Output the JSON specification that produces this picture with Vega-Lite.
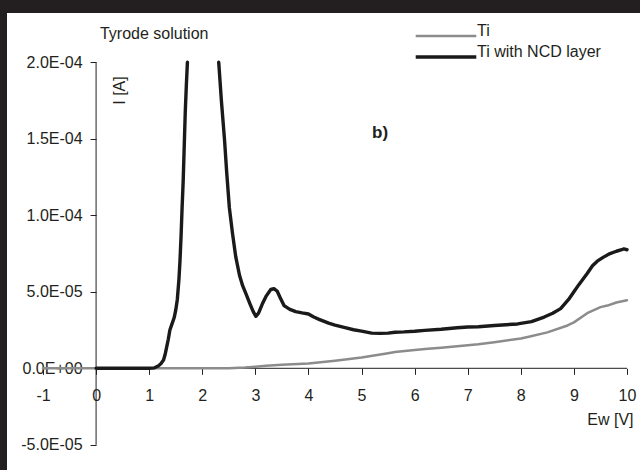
{
  "$schema": "https://vega.github.io/schema/vega-lite/v6.json",
  "width": 633,
  "height": 457,
  "autosize": {"type": "none"},
  "padding": {"left": 7, "top": 13, "right": 0, "bottom": 0},
  "background": "#231f20",
  "config": {"view": {"fill": "white", "stroke": null}, "font": "Liberation Sans"},
  "datasets": {
    "curves": [
      {"series": "Ti", "seg": "t", "V": -1, "I": 0},
      {"series": "Ti", "seg": "t", "V": 0, "I": 0},
      {"series": "Ti", "seg": "t", "V": 1, "I": 0},
      {"series": "Ti", "seg": "t", "V": 2, "I": 0},
      {"series": "Ti", "seg": "t", "V": 2.5, "I": 0},
      {"series": "Ti", "seg": "t", "V": 2.8, "I": 0.0000005},
      {"series": "Ti", "seg": "t", "V": 3.0, "I": 0.0000010},
      {"series": "Ti", "seg": "t", "V": 3.2, "I": 0.0000016},
      {"series": "Ti", "seg": "t", "V": 3.5, "I": 0.0000023},
      {"series": "Ti", "seg": "t", "V": 4.0, "I": 0.0000032},
      {"series": "Ti", "seg": "t", "V": 4.5, "I": 0.0000050},
      {"series": "Ti", "seg": "t", "V": 5.0, "I": 0.0000070},
      {"series": "Ti", "seg": "t", "V": 5.5, "I": 0.0000098},
      {"series": "Ti", "seg": "t", "V": 5.63, "I": 0.0000106},
      {"series": "Ti", "seg": "t", "V": 6.0, "I": 0.0000120},
      {"series": "Ti", "seg": "t", "V": 6.25, "I": 0.0000128},
      {"series": "Ti", "seg": "t", "V": 6.5, "I": 0.0000135},
      {"series": "Ti", "seg": "t", "V": 7.0, "I": 0.0000150},
      {"series": "Ti", "seg": "t", "V": 7.2, "I": 0.0000157},
      {"series": "Ti", "seg": "t", "V": 7.5, "I": 0.0000170},
      {"series": "Ti", "seg": "t", "V": 8.0, "I": 0.0000195},
      {"series": "Ti", "seg": "t", "V": 8.13, "I": 0.0000205},
      {"series": "Ti", "seg": "t", "V": 8.5, "I": 0.0000235},
      {"series": "Ti", "seg": "t", "V": 8.88, "I": 0.0000280},
      {"series": "Ti", "seg": "t", "V": 9.0, "I": 0.0000300},
      {"series": "Ti", "seg": "t", "V": 9.25, "I": 0.0000360},
      {"series": "Ti", "seg": "t", "V": 9.5, "I": 0.0000400},
      {"series": "Ti", "seg": "t", "V": 9.63, "I": 0.0000410},
      {"series": "Ti", "seg": "t", "V": 9.8, "I": 0.0000430},
      {"series": "Ti", "seg": "t", "V": 10.0, "I": 0.0000445},
      {"series": "Ti with NCD layer", "seg": "a", "V": 0, "I": 0},
      {"series": "Ti with NCD layer", "seg": "a", "V": 0.5, "I": 0},
      {"series": "Ti with NCD layer", "seg": "a", "V": 1.0, "I": 0},
      {"series": "Ti with NCD layer", "seg": "a", "V": 1.1, "I": 0.0000003},
      {"series": "Ti with NCD layer", "seg": "a", "V": 1.17, "I": 0.0000015},
      {"series": "Ti with NCD layer", "seg": "a", "V": 1.22, "I": 0.0000030},
      {"series": "Ti with NCD layer", "seg": "a", "V": 1.27, "I": 0.0000054},
      {"series": "Ti with NCD layer", "seg": "a", "V": 1.30, "I": 0.0000090},
      {"series": "Ti with NCD layer", "seg": "a", "V": 1.33, "I": 0.0000140},
      {"series": "Ti with NCD layer", "seg": "a", "V": 1.36, "I": 0.0000190},
      {"series": "Ti with NCD layer", "seg": "a", "V": 1.39, "I": 0.0000250},
      {"series": "Ti with NCD layer", "seg": "a", "V": 1.43, "I": 0.0000290},
      {"series": "Ti with NCD layer", "seg": "a", "V": 1.47, "I": 0.0000330},
      {"series": "Ti with NCD layer", "seg": "a", "V": 1.50, "I": 0.0000380},
      {"series": "Ti with NCD layer", "seg": "a", "V": 1.53, "I": 0.0000450},
      {"series": "Ti with NCD layer", "seg": "a", "V": 1.56, "I": 0.0000580},
      {"series": "Ti with NCD layer", "seg": "a", "V": 1.58, "I": 0.0000700},
      {"series": "Ti with NCD layer", "seg": "a", "V": 1.60, "I": 0.0000860},
      {"series": "Ti with NCD layer", "seg": "a", "V": 1.62, "I": 0.0001050},
      {"series": "Ti with NCD layer", "seg": "a", "V": 1.64, "I": 0.0001220},
      {"series": "Ti with NCD layer", "seg": "a", "V": 1.66, "I": 0.0001450},
      {"series": "Ti with NCD layer", "seg": "a", "V": 1.68, "I": 0.0001680},
      {"series": "Ti with NCD layer", "seg": "a", "V": 1.70, "I": 0.0001850},
      {"series": "Ti with NCD layer", "seg": "a", "V": 1.72, "I": 0.0002000},
      {"series": "Ti with NCD layer", "seg": "b", "V": 2.31, "I": 0.0002000},
      {"series": "Ti with NCD layer", "seg": "b", "V": 2.36, "I": 0.0001750},
      {"series": "Ti with NCD layer", "seg": "b", "V": 2.42, "I": 0.0001490},
      {"series": "Ti with NCD layer", "seg": "b", "V": 2.46, "I": 0.0001280},
      {"series": "Ti with NCD layer", "seg": "b", "V": 2.51, "I": 0.0001050},
      {"series": "Ti with NCD layer", "seg": "b", "V": 2.57, "I": 0.0000880},
      {"series": "Ti with NCD layer", "seg": "b", "V": 2.63, "I": 0.0000730},
      {"series": "Ti with NCD layer", "seg": "b", "V": 2.70, "I": 0.0000610},
      {"series": "Ti with NCD layer", "seg": "b", "V": 2.76, "I": 0.0000540},
      {"series": "Ti with NCD layer", "seg": "b", "V": 2.82, "I": 0.0000490},
      {"series": "Ti with NCD layer", "seg": "b", "V": 2.90, "I": 0.0000420},
      {"series": "Ti with NCD layer", "seg": "b", "V": 2.96, "I": 0.0000370},
      {"series": "Ti with NCD layer", "seg": "b", "V": 3.01, "I": 0.0000340},
      {"series": "Ti with NCD layer", "seg": "b", "V": 3.06, "I": 0.0000360},
      {"series": "Ti with NCD layer", "seg": "b", "V": 3.13, "I": 0.0000420},
      {"series": "Ti with NCD layer", "seg": "b", "V": 3.20, "I": 0.0000470},
      {"series": "Ti with NCD layer", "seg": "b", "V": 3.29, "I": 0.0000515},
      {"series": "Ti with NCD layer", "seg": "b", "V": 3.35, "I": 0.0000520},
      {"series": "Ti with NCD layer", "seg": "b", "V": 3.41, "I": 0.0000505},
      {"series": "Ti with NCD layer", "seg": "b", "V": 3.47, "I": 0.0000460},
      {"series": "Ti with NCD layer", "seg": "b", "V": 3.54, "I": 0.0000410},
      {"series": "Ti with NCD layer", "seg": "b", "V": 3.65, "I": 0.0000385},
      {"series": "Ti with NCD layer", "seg": "b", "V": 3.76, "I": 0.0000370},
      {"series": "Ti with NCD layer", "seg": "b", "V": 3.88, "I": 0.0000362},
      {"series": "Ti with NCD layer", "seg": "b", "V": 4.0, "I": 0.0000355},
      {"series": "Ti with NCD layer", "seg": "b", "V": 4.1, "I": 0.0000335},
      {"series": "Ti with NCD layer", "seg": "b", "V": 4.2, "I": 0.0000320},
      {"series": "Ti with NCD layer", "seg": "b", "V": 4.38, "I": 0.0000295},
      {"series": "Ti with NCD layer", "seg": "b", "V": 4.5, "I": 0.0000282},
      {"series": "Ti with NCD layer", "seg": "b", "V": 4.69, "I": 0.0000266},
      {"series": "Ti with NCD layer", "seg": "b", "V": 4.85, "I": 0.0000252},
      {"series": "Ti with NCD layer", "seg": "b", "V": 5.0, "I": 0.0000243},
      {"series": "Ti with NCD layer", "seg": "b", "V": 5.19, "I": 0.0000230},
      {"series": "Ti with NCD layer", "seg": "b", "V": 5.35, "I": 0.0000228},
      {"series": "Ti with NCD layer", "seg": "b", "V": 5.5, "I": 0.0000230},
      {"series": "Ti with NCD layer", "seg": "b", "V": 5.63, "I": 0.0000236},
      {"series": "Ti with NCD layer", "seg": "b", "V": 5.8, "I": 0.0000238},
      {"series": "Ti with NCD layer", "seg": "b", "V": 6.0, "I": 0.0000242},
      {"series": "Ti with NCD layer", "seg": "b", "V": 6.19, "I": 0.0000248},
      {"series": "Ti with NCD layer", "seg": "b", "V": 6.5, "I": 0.0000255},
      {"series": "Ti with NCD layer", "seg": "b", "V": 6.8, "I": 0.0000265},
      {"series": "Ti with NCD layer", "seg": "b", "V": 7.0, "I": 0.0000270},
      {"series": "Ti with NCD layer", "seg": "b", "V": 7.2, "I": 0.0000272},
      {"series": "Ti with NCD layer", "seg": "b", "V": 7.5, "I": 0.0000280},
      {"series": "Ti with NCD layer", "seg": "b", "V": 7.94, "I": 0.0000290},
      {"series": "Ti with NCD layer", "seg": "b", "V": 8.2, "I": 0.0000305},
      {"series": "Ti with NCD layer", "seg": "b", "V": 8.44, "I": 0.0000335},
      {"series": "Ti with NCD layer", "seg": "b", "V": 8.6, "I": 0.0000360},
      {"series": "Ti with NCD layer", "seg": "b", "V": 8.75, "I": 0.0000390},
      {"series": "Ti with NCD layer", "seg": "b", "V": 8.9, "I": 0.0000450},
      {"series": "Ti with NCD layer", "seg": "b", "V": 9.0, "I": 0.0000500},
      {"series": "Ti with NCD layer", "seg": "b", "V": 9.1, "I": 0.0000550},
      {"series": "Ti with NCD layer", "seg": "b", "V": 9.25, "I": 0.0000620},
      {"series": "Ti with NCD layer", "seg": "b", "V": 9.35, "I": 0.0000670},
      {"series": "Ti with NCD layer", "seg": "b", "V": 9.44, "I": 0.0000700},
      {"series": "Ti with NCD layer", "seg": "b", "V": 9.55, "I": 0.0000725},
      {"series": "Ti with NCD layer", "seg": "b", "V": 9.68, "I": 0.0000750},
      {"series": "Ti with NCD layer", "seg": "b", "V": 9.8, "I": 0.0000765},
      {"series": "Ti with NCD layer", "seg": "b", "V": 9.9, "I": 0.0000775},
      {"series": "Ti with NCD layer", "seg": "b", "V": 9.94, "I": 0.0000780},
      {"series": "Ti with NCD layer", "seg": "b", "V": 10.0, "I": 0.0000775}
    ]
  },
  "layer": [
    {
      "data": {"values": [{"axis": "y"}]},
      "mark": {"type": "rule", "color": "#231f20", "strokeWidth": 1},
      "encoding": {
        "x": {"datum": 0, "type": "quantitative", "scale": {"domain": [-1.67808, 10.24487], "nice": false, "zero": false}},
        "y": {"datum": -0.00005, "type": "quantitative", "scale": {"domain": [-0.000066471, 0.000232222], "nice": false, "zero": false}},
        "y2": {"datum": 0.0002}
      }
    },
    {
      "data": {"values": [{"axis": "x"}]},
      "mark": {"type": "rule", "color": "#231f20", "strokeWidth": 1},
      "encoding": {
        "x": {"datum": -1, "type": "quantitative", "scale": {"domain": [-1.67808, 10.24487], "nice": false, "zero": false}},
        "x2": {"datum": 10},
        "y": {"datum": 0, "type": "quantitative", "scale": {"domain": [-0.000066471, 0.000232222], "nice": false, "zero": false}}
      }
    },
    {
      "data": {"name": "curves"},
      "mark": {"type": "line", "strokeJoin": "round", "strokeCap": "round"},
      "encoding": {
        "x": {
          "field": "V", "type": "quantitative",
          "scale": {"domain": [-1.67808, 10.24487], "nice": false, "zero": false},
          "axis": {
            "values": [-1, 0, 1, 2, 3, 4, 5, 6, 7, 8, 9, 10],
            "domain": false, "grid": false, "offset": -101.7,
            "ticks": true, "tickSize": 6, "tickColor": "#231f20", "tickWidth": 1,
            "labelFontSize": 16, "labelColor": "#231f20", "labelPadding": 13,
            "labelFlush": false, "labelOverlap": false, "labelFont": "Liberation Sans",
            "labelExpr": "datum.value < 0 ? '-' + abs(datum.value) : '' + datum.value",
            "title": "Ew [V]", "titleFont": "Liberation Sans", "titleFontSize": 16, "titleFontWeight": "normal", "titleColor": "#231f20",
            "titleX": 626, "titleY": 51, "titleAlign": "right", "titleBaseline": "middle", "titleAnchor": null
          }
        },
        "y": {
          "field": "I", "type": "quantitative",
          "scale": {"domain": [-0.000066471, 0.000232222], "nice": false, "zero": false},
          "axis": {
            "values": [-0.00005, 0, 0.00005, 0.0001, 0.00015, 0.0002],
            "domain": false, "grid": false, "offset": -89.09,
            "ticks": true, "tickSize": 6, "tickColor": "#231f20", "tickWidth": 1,
            "labelFontSize": 16, "labelColor": "#231f20", "labelPadding": 8, "labelFont": "Liberation Sans",
            "labelFlush": false, "labelOverlap": false,
            "labelExpr": "datum.value > 0.00019 ? '2.0E-04' : datum.value > 0.00014 ? '1.5E-04' : datum.value > 0.00009 ? '1.0E-04' : datum.value > 0.00004 ? '5.0E-05' : datum.value > -0.00001 ? '0.0E+00' : '-5.0E-05'",
            "title": "I [A]", "titleFont": "Liberation Sans", "titleFontSize": 16, "titleFontWeight": "normal", "titleColor": "#231f20",
            "titleAngle": 270, "titleX": 23, "titleY": 77, "titleAlign": "center", "titleBaseline": "middle", "titleAnchor": null
          }
        },
        "color": {
          "field": "series", "type": "nominal",
          "scale": {"domain": ["Ti", "Ti with NCD layer"], "range": ["#8c8c8c", "#1a1a1a"]},
          "legend": {
            "orient": "none", "legendX": 431, "legendY": 15, "title": null, "padding": 0,
            "symbolType": "M-11.25,0H11.25", "symbolSize": 29, "symbolStrokeWidth": 2,
            "labelOffset": 23, "labelFontSize": 16, "labelFont": "Liberation Sans", "labelColor": "#231f20",
            "labelBaseline": "alphabetic", "rowPadding": 3
          }
        },
        "strokeWidth": {
          "field": "series", "type": "nominal",
          "scale": {"domain": ["Ti", "Ti with NCD layer"], "range": [2.5, 3.4]},
          "legend": null
        },
        "detail": {"field": "seg", "type": "nominal"}
      }
    },
    {
      "data": {"values": [{"label": "Tyrode solution"}]},
      "mark": {"type": "text", "align": "left", "baseline": "middle", "fontSize": 16, "font": "Liberation Sans", "color": "#231f20"},
      "encoding": {
        "x": {"datum": 0.073, "type": "quantitative", "scale": {"domain": [-1.67808, 10.24487], "nice": false, "zero": false}},
        "y": {"datum": 0.0002185, "type": "quantitative", "scale": {"domain": [-0.000066471, 0.000232222], "nice": false, "zero": false}},
        "text": {"field": "label"}
      }
    },
    {
      "data": {"values": [{"label": "b)"}]},
      "mark": {"type": "text", "align": "center", "baseline": "middle", "fontSize": 17, "fontWeight": "bold", "font": "Liberation Sans", "color": "#231f20"},
      "encoding": {
        "x": {"datum": 5.348, "type": "quantitative", "scale": {"domain": [-1.67808, 10.24487], "nice": false, "zero": false}},
        "y": {"datum": 0.0001538, "type": "quantitative", "scale": {"domain": [-0.000066471, 0.000232222], "nice": false, "zero": false}},
        "text": {"field": "label"}
      }
    }
  ]
}
